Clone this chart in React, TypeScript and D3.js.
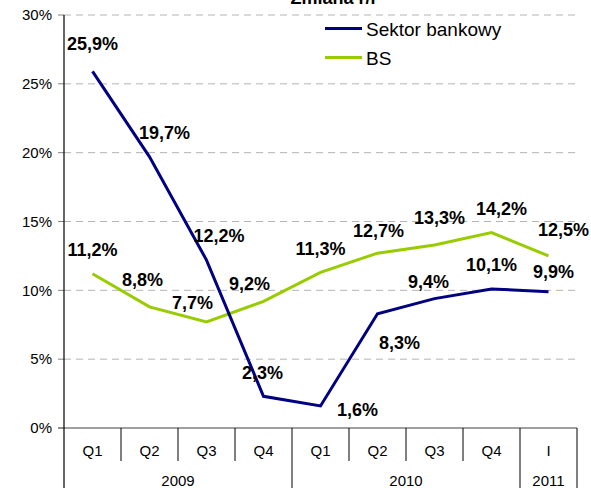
import React, { useEffect, useRef } from 'react';
import * as d3 from 'd3';

const quarters = ['Q1', 'Q2', 'Q3', 'Q4', 'Q1', 'Q2', 'Q3', 'Q4', 'I'];
const years = [
  { label: '2009', span: 4 },
  { label: '2010', span: 4 },
  { label: '2011', span: 1 },
];
const sektorBankowy = [25.9, 19.7, 12.2, 2.3, 1.6, 8.3, 9.4, 10.1, 9.9];
const bs = [11.2, 8.8, 7.7, 9.2, 11.3, 12.7, 13.3, 14.2, 12.5];
const yTicks = [0, 5, 10, 15, 20, 25, 30];

// label nudges (px) relative to each point
const sektorLabelOffsets: [number, number][] = [
  [0, -28], [15, -24], [12.5, -24], [-1, -24], [37, 4], [22, 29], [-6, -17], [0, -24], [5, -20],
];
const bsLabelOffsets: [number, number][] = [
  [0, -24], [-7, -27], [-14, -19], [-14, -18], [0, -24], [1, -22], [5, -27], [10, -24], [15, -26],
];

const FONT = '"Liberation Sans", Arial, sans-serif';
const NAVY = '#000080';
const GREEN = '#99CC00';

const fmt = (v: number) => v.toFixed(1).replace('.', ',') + '%';

export default function App() {
  const svgRef = useRef<SVGSVGElement>(null);

  useEffect(() => {
    if (!svgRef.current) return;
    const svg = d3.select(svgRef.current);
    svg.selectAll('*').remove();

    const left = 64;
    const right = 577;
    const top = 15;
    const bottom = 428;

    const x = d3.scaleBand<number>()
      .domain(d3.range(quarters.length))
      .range([left, right]);
    const y = d3.scaleLinear().domain([0, 30]).range([bottom, top]);
    const cx = (i: number) => (x(i) as number) + x.bandwidth() / 2;

    // grid
    svg.append('g')
      .selectAll('line')
      .data(yTicks.filter(t => t > 0))
      .join('line')
      .attr('x1', left)
      .attr('x2', right)
      .attr('y1', d => y(d))
      .attr('y2', d => y(d))
      .attr('stroke', '#b4b4b4')
      .attr('stroke-width', 1)
      .attr('stroke-dasharray', '7,5');

    // y tick marks + labels
    const yt = svg.append('g');
    yt.selectAll('line')
      .data(yTicks)
      .join('line')
      .attr('x1', left - 6)
      .attr('x2', left)
      .attr('y1', d => y(d))
      .attr('y2', d => y(d))
      .attr('stroke', '#808080');
    yt.selectAll('text')
      .data(yTicks)
      .join('text')
      .attr('x', left - 12)
      .attr('y', d => y(d))
      .attr('dy', '0.35em')
      .attr('text-anchor', 'end')
      .attr('font-family', FONT)
      .attr('font-size', 15)
      .attr('fill', '#000')
      .text(d => d + '%');

    // x axis line
    svg.append('line')
      .attr('x1', left - 6)
      .attr('x2', right)
      .attr('y1', bottom)
      .attr('y2', bottom)
      .attr('stroke', '#808080')
      .attr('stroke-width', 1.5);

    // category separators
    const yearBounds = new Set<number>([0]);
    let acc = 0;
    years.forEach(yr => { acc += yr.span; yearBounds.add(acc); });
    const bounds = d3.range(quarters.length + 1);
    svg.append('g')
      .selectAll('line')
      .data(bounds.filter(b => b > 0))
      .join('line')
      .attr('x1', b => (b === quarters.length ? right : (x(b) as number)))
      .attr('x2', b => (b === quarters.length ? right : (x(b) as number)))
      .attr('y1', bottom)
      .attr('y2', b => (yearBounds.has(b) ? 488 : 461))
      .attr('stroke', '#000')
      .attr('stroke-width', 1);

    // quarter labels
    svg.append('g')
      .selectAll('text')
      .data(quarters)
      .join('text')
      .attr('x', (_, i) => cx(i))
      .attr('y', 451)
      .attr('dy', '0.35em')
      .attr('text-anchor', 'middle')
      .attr('font-family', FONT)
      .attr('font-size', 15)
      .text(d => d);

    // year labels
    let start = 0;
    years.forEach(yr => {
      const x0 = x(start) as number;
      const end = start + yr.span;
      const x1 = end === quarters.length ? right : (x(end) as number);
      svg.append('text')
        .attr('x', (x0 + x1) / 2)
        .attr('y', 481)
        .attr('dy', '0.35em')
        .attr('text-anchor', 'middle')
        .attr('font-family', FONT)
        .attr('font-size', 15)
        .text(yr.label);
      start = end;
    });

    // y axis
    svg.append('line')
      .attr('x1', left)
      .attr('x2', left)
      .attr('y1', top)
      .attr('y2', 488)
      .attr('stroke', '#000')
      .attr('stroke-width', 1.2);

    const line = d3.line<number>()
      .x((_, i) => cx(i))
      .y(d => y(d));

    svg.append('path')
      .datum(bs)
      .attr('fill', 'none')
      .attr('stroke', GREEN)
      .attr('stroke-width', 3)
      .attr('d', line);

    svg.append('path')
      .datum(sektorBankowy)
      .attr('fill', 'none')
      .attr('stroke', NAVY)
      .attr('stroke-width', 3)
      .attr('d', line);

    const labels = (vals: number[], offs: [number, number][]) => {
      svg.append('g')
        .selectAll('text')
        .data(vals)
        .join('text')
        .attr('x', (_, i) => cx(i) + offs[i][0])
        .attr('y', (d, i) => y(d) + offs[i][1])
        .attr('dy', '0.35em')
        .attr('text-anchor', 'middle')
        .attr('font-family', FONT)
        .attr('font-size', 18)
        .attr('font-weight', 'bold')
        .attr('fill', '#000')
        .text(d => fmt(d));
    };
    labels(sektorBankowy, sektorLabelOffsets);
    labels(bs, bsLabelOffsets);

    // title (cut off at top, as in the source)
    svg.append('text')
      .attr('x', 334)
      .attr('y', 4)
      .attr('text-anchor', 'middle')
      .attr('font-family', FONT)
      .attr('font-size', 18)
      .attr('font-weight', 'bold')
      .text('Zmiana r/r');

    // legend
    const legend = [
      { name: 'Sektor bankowy', color: NAVY },
      { name: 'BS', color: GREEN },
    ];
    legend.forEach((item, i) => {
      const ly = 28.5 + i * 29;
      svg.append('line')
        .attr('x1', 325)
        .attr('x2', 362)
        .attr('y1', ly)
        .attr('y2', ly)
        .attr('stroke', item.color)
        .attr('stroke-width', 3);
      svg.append('text')
        .attr('x', 366)
        .attr('y', ly + 7)
        .attr('font-family', FONT)
        .attr('font-size', 19)
        .text(item.name);
    });
  }, []);

  return (
    <svg
      ref={svgRef}
      width={591}
      height={488}
      style={{ position: 'absolute', left: 0, top: 0, background: '#fff', display: 'block' }}
    />
  );
}
